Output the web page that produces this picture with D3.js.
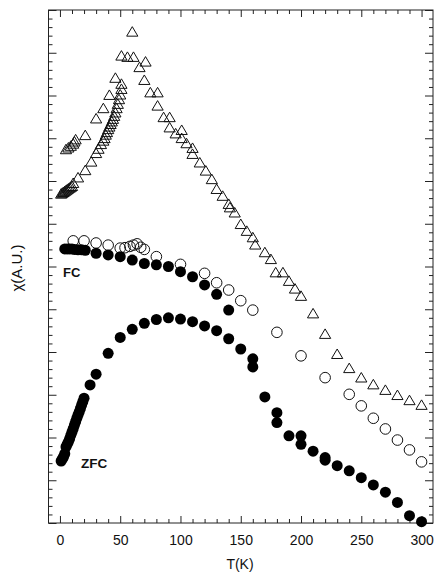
<!DOCTYPE html>
<html>
<head>
<meta charset="utf-8">
<script src="https://cdn.jsdelivr.net/npm/d3@7"></script>
<style>
  body { margin: 0; background: #fff; }
  text { font-family: "Liberation Sans", Arial, sans-serif; fill: #111; }
</style>
</head>
<body>
<div id="chart"></div>
<script>
// open triangles
var triT = [1, 2, 3, 4, 5, 6, 7, 8, 9, 10,
  5, 7, 9, 11, 12, 13,
  11, 15, 21, 26, 30, 32, 34, 36, 37, 38, 39, 40, 41, 42, 43, 44, 45, 46, 47, 48, 49, 50, 51, 51,
  21, 30, 36, 41, 46,
  51, 56, 61, 60, 66, 71, 70, 75, 81, 81, 86, 91, 91, 96, 101, 101, 105, 110, 110, 116, 121, 126, 130,
  135, 140, 141, 145, 150, 155, 160, 162, 170, 175, 179, 185, 190, 195, 200,
  210, 220, 230, 240, 250, 260, 270, 280, 290, 300]
var triV = [7.68, 7.7, 7.72, 7.74, 7.76, 7.78, 7.8, 7.82, 7.84, 7.86,
  8.72, 8.76, 8.8, 8.85, 8.9, 8.95,
  7.93, 8.06, 8.23, 8.43, 8.63, 8.73, 8.84, 8.92, 8.98, 9.06, 9.12, 9.19, 9.25, 9.31, 9.37, 9.43, 9.5, 9.58, 9.68, 9.78, 9.89, 10.0, 10.13, 10.25,
  9.05, 9.44, 9.68, 9.99, 10.39,
  10.91, 10.88, 10.88, 11.47, 10.64, 10.77, 10.34, 10.05, 10.05, 9.74, 9.47, 9.47, 9.23, 9.09, 9.17, 8.98, 8.86, 8.75, 8.61, 8.41, 8.22, 8.02, 7.79,
  7.63, 7.44, 7.36, 7.24, 6.97, 6.81, 6.66, 6.49, 6.31, 6.15, 5.84, 5.84, 5.64, 5.46, 5.29,
  4.88, 4.40, 3.93, 3.60, 3.38, 3.22, 3.09, 2.97, 2.85, 2.74]

// open circles (FC)
var fcOpenT = [11, 20, 30, 40, 50, 54, 58, 61, 64, 67, 70, 80, 100, 120, 130, 140, 150, 160, 180, 200, 220, 240, 250, 260, 270, 280, 290, 300]
var fcOpenV = [6.6, 6.6, 6.55, 6.5, 6.43, 6.44, 6.47, 6.5, 6.53, 6.45, 6.4, 6.23, 6.05, 5.84, 5.62, 5.45, 5.2, 4.98, 4.46, 3.91, 3.40, 3.01, 2.74, 2.45, 2.2, 1.94, 1.71, 1.43]

// filled circles (FC)
var fcT = [4, 6, 8, 10, 12, 15, 18, 21, 30, 40, 50, 60, 70, 80, 90, 100, 110, 120, 130, 140]
var fcV = [6.41, 6.41, 6.41, 6.41, 6.4, 6.39, 6.39, 6.38, 6.31, 6.27, 6.23, 6.15, 6.07, 6.04, 6.0, 5.88, 5.76, 5.57, 5.35, 4.98]

// filled circles (ZFC)
var zfcT = [1, 2, 3, 4, 5, 6, 7, 8, 9, 10, 11, 12, 13, 14, 15, 16, 17, 18, 19, 20,
  25, 30, 40, 50, 60, 70, 80, 90, 100, 110, 120, 130, 140, 150, 160, 160, 170, 180, 180, 190,
  200, 200, 210, 220, 220, 230, 240, 250, 260, 270, 280, 290, 300]
var zfcV = [1.45, 1.5, 1.55, 1.62, 1.78, 1.84, 1.9, 1.97, 2.05, 2.13, 2.21, 2.29, 2.37, 2.45, 2.53, 2.6, 2.68, 2.76, 2.84, 2.92,
  3.23, 3.48, 3.97, 4.34, 4.53, 4.67, 4.76, 4.8, 4.77, 4.71, 4.61, 4.5, 4.31, 4.07, 3.84, 3.65, 2.95, 2.58, 2.35, 2.04,
  2.04, 1.84, 1.68, 1.53, 1.47, 1.34, 1.22, 1.06, 0.89, 0.72, 0.48, 0.17, 0.03]

var xTicks = [0, 50, 100, 150, 200, 250, 300]

var W = 435, H = 574
var svg = d3.select('#chart').append('svg').attr('width', W).attr('height', H)

var x = d3.scaleLinear().domain([-9.5, 309.5]).range([48.5, 433])
var y = d3.scaleLinear().domain([0, 12]).range([523, 10])

// frame
svg.append('rect')
  .attr('x', x(-9.5)).attr('y', y(12))
  .attr('width', x(309.5) - x(-9.5)).attr('height', y(0) - y(12))
  .attr('fill', 'none').attr('stroke', '#222').attr('stroke-width', 1)

var minorX = d3.range(0, 301, 10).filter(d => d % 50 != 0)
var minorY = d3.range(0, 12.01, 0.2).filter(d => Math.abs(d - Math.round(d)) > 0.01)
var majorY = d3.range(0, 13, 1)

function noDomain(g) { g.select('.domain').remove(); g.selectAll('line').attr('stroke', '#222') }

// bottom / top
svg.append('g').attr('transform', `translate(0,${y(0)})`)
  .call(d3.axisBottom(x).tickValues(xTicks).tickSize(-7).tickPadding(12).tickFormat(d3.format('d')))
  .call(noDomain)
  .call(g => g.selectAll('text').attr('font-size', 14).attr('fill', '#111').attr('font-family', 'Liberation Sans, Arial, sans-serif'))
svg.append('g').attr('transform', `translate(0,${y(0)})`)
  .call(d3.axisBottom(x).tickValues(minorX).tickSize(-4).tickFormat(''))
  .call(noDomain)
svg.append('g').attr('transform', `translate(0,${y(12)})`)
  .call(d3.axisTop(x).tickValues(xTicks).tickSize(-7).tickFormat(''))
  .call(noDomain)
svg.append('g').attr('transform', `translate(0,${y(12)})`)
  .call(d3.axisTop(x).tickValues(minorX).tickSize(-4).tickFormat(''))
  .call(noDomain)

// left / right
svg.append('g').attr('transform', `translate(${x(-9.5)},0)`)
  .call(d3.axisLeft(y).tickValues(majorY).tickSize(-8).tickFormat(''))
  .call(noDomain)
svg.append('g').attr('transform', `translate(${x(-9.5)},0)`)
  .call(d3.axisLeft(y).tickValues(minorY).tickSize(-4).tickFormat(''))
  .call(noDomain)
svg.append('g').attr('transform', `translate(${x(309.5)},0)`)
  .call(d3.axisRight(y).tickValues(majorY).tickSize(-8).tickFormat(''))
  .call(noDomain)
svg.append('g').attr('transform', `translate(${x(309.5)},0)`)
  .call(d3.axisRight(y).tickValues(minorY).tickSize(-4).tickFormat(''))
  .call(noDomain)

// markers
var triPath = 'M0,-6L5.6,3.5L-5.6,3.5Z'
var tri = triT.map((t, i) => ({t: t, v: triV[i]}))
svg.append('g').selectAll('path').data(tri).enter().append('path')
  .attr('d', triPath)
  .attr('transform', d => `translate(${x(d.t)},${y(d.v)})`)
  .attr('fill', 'none').attr('stroke', '#111').attr('stroke-width', 1)

var fcOpen = fcOpenT.map((t, i) => ({t: t, v: fcOpenV[i]}))
svg.append('g').selectAll('circle').data(fcOpen).enter().append('circle')
  .attr('cx', d => x(d.t)).attr('cy', d => y(d.v)).attr('r', 5.3)
  .attr('fill', 'none').attr('stroke', '#111').attr('stroke-width', 1)

var fc = fcT.map((t, i) => ({t: t, v: fcV[i]}))
var zfc = zfcT.map((t, i) => ({t: t, v: zfcV[i]}))
svg.append('g').selectAll('circle').data(fc.concat(zfc)).enter().append('circle')
  .attr('cx', d => x(d.t)).attr('cy', d => y(d.v)).attr('r', 5.5)
  .attr('fill', '#000')

// labels
svg.append('text').attr('x', 63).attr('y', 277).attr('font-size', 13).attr('font-weight', 'bold').text('FC')
svg.append('text').attr('x', 81).attr('y', 468).attr('font-size', 13.5).attr('font-weight', 'bold').text('ZFC')
svg.append('text').attr('x', 240).attr('y', 569).attr('text-anchor', 'middle').attr('font-size', 14).text('T(K)')
svg.append('text').attr('transform', 'translate(22,268) rotate(-90)').attr('text-anchor', 'middle').attr('font-size', 15).text('χ(A.U.)')
</script>
</body>
</html>
